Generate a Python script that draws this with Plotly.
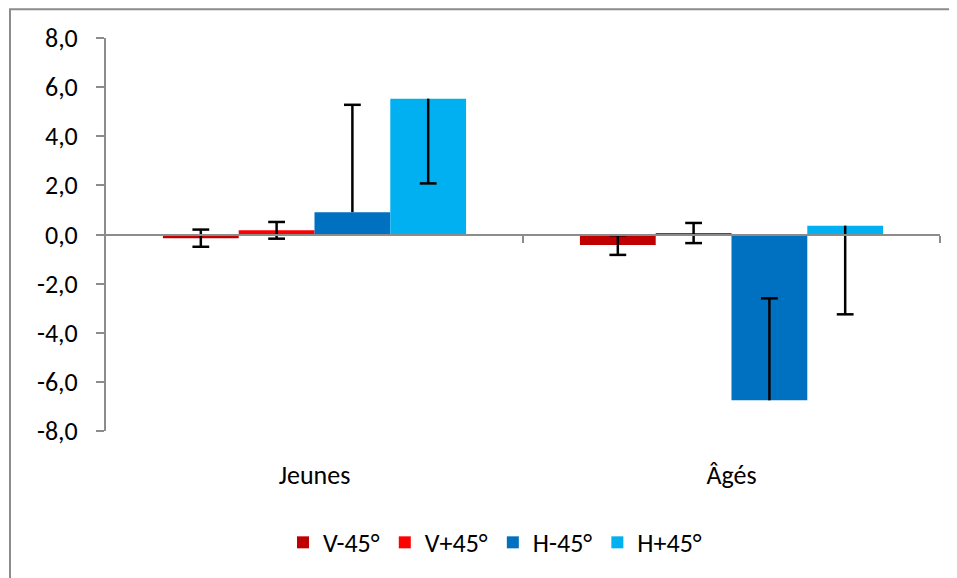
import plotly.graph_objects as go

categories = ["Jeunes", "Âgés"]
series_names = ["V-45°", "V+45°", "H-45°", "H+45°"]
colors = ["#C00000", "#FF0000", "#0070C0", "#00B0F0"]

v_minus = [-0.15, -0.43]
v_plus = [0.17, 0.06]
h_minus = [0.91, -6.75]
h_plus = [5.53, 0.36]

err_v_minus_up = [0.35, 0.40]
err_v_minus_down = [0.35, 0.40]
err_v_plus_up = [0.34, 0.41]
err_v_plus_down = [0.34, 0.41]
err_h_minus_up = [4.37, 4.15]
err_h_minus_down = [0.0, 0.0]
err_h_plus_up = [0.0, 0.0]
err_h_plus_down = [3.45, 3.61]

values = [v_minus, v_plus, h_minus, h_plus]
errs_up = [err_v_minus_up, err_v_plus_up, err_h_minus_up, err_h_plus_up]
errs_down = [err_v_minus_down, err_v_plus_down, err_h_minus_down, err_h_plus_down]

y_ticks = [-8, -6, -4, -2, 0, 2, 4, 6, 8]
y_tick_labels = ["-8,0", "-6,0", "-4,0", "-2,0", "0,0", "2,0", "4,0", "6,0", "8,0"]

FONT = "Carlito, Calibri, 'Liberation Sans Narrow', 'Open Sans', sans-serif"
FS = 26
GRAY = "#8C8C8C"
BARGAP = 0.273

# page body has an 8px margin, so the figure is drawn 8px smaller
W, H = 949, 570
ML, MR, MT, MB = 98, 17, 30, 145
PW, PH = W - ML - MR, H - MT - MB

fig = go.Figure()
for name, vals, col, up, down in zip(series_names, values, colors, errs_up, errs_down):
    fig.add_trace(go.Bar(
        x=categories, y=vals, name=name,
        marker=dict(color=col, line=dict(width=0)),
        error_y=dict(type="data", symmetric=False, array=up, arrayminus=down,
                     color="black", thickness=2.5, width=0),
    ))

# error bar caps, only at ends that exist
bar_w = (1 - BARGAP) / len(series_names)
cap_x, cap_y = [], []
for k, (vals, up, down) in enumerate(zip(values, errs_up, errs_down)):
    for i in range(len(categories)):
        xpos = i + (k - (len(series_names) - 1) / 2) * bar_w
        if up[i] > 0:
            cap_x.append(xpos)
            cap_y.append(vals[i] + up[i])
        if down[i] > 0:
            cap_x.append(xpos)
            cap_y.append(vals[i] - down[i])
fig.add_trace(go.Scatter(x=cap_x, y=cap_y, xaxis="x2", mode="markers",
                         marker=dict(symbol="line-ew", size=12,
                                     line=dict(color="black", width=2.5)),
                         hoverinfo="skip", showlegend=False))

fig.update_layout(
    width=W, height=H,
    margin=dict(l=ML, r=MR, t=MT, b=MB),
    paper_bgcolor="white", plot_bgcolor="white",
    barmode="group", bargap=BARGAP, bargroupgap=0,
    font=dict(family=FONT, size=FS, color="black"),
    showlegend=True,
    legend=dict(orientation="h", x=(487 - ML) / PW, xanchor="center",
                y=-(537 - (H - MB)) / PH, yanchor="middle",
                font=dict(family=FONT, size=FS, color="black"), itemclick=False,
                traceorder="normal", itemwidth=30),
    xaxis=dict(type="category", showline=False, ticks="", showgrid=False, zeroline=False,
               ticklabelstandoff=26, tickfont=dict(family=FONT, size=FS, color="black")),
    xaxis2=dict(overlaying="x", anchor="free", position=0.5, range=[-0.5, 1.5],
                showline=True, linecolor=GRAY, linewidth=2, ticks="outside",
                tickvals=[0.5, 1.5], ticklen=7, tickcolor=GRAY, tickwidth=2,
                showticklabels=False, showgrid=False, zeroline=False),
    yaxis=dict(range=[-8, 8], tickvals=y_ticks, ticktext=y_tick_labels,
               showline=True, linecolor=GRAY, linewidth=2, ticks="outside",
               ticklen=8, tickcolor=GRAY, tickwidth=2, showgrid=False, zeroline=False,
               ticklabelstandoff=13, tickfont=dict(family=FONT, size=FS, color="black")),
    shapes=[dict(type="rect", xref="paper", yref="paper",
                 x0=(2 - ML) / PW, x1=(W + 20 - ML) / PW,
                 y0=-(H + 20 - (H - MB)) / PH, y1=1 + (MT - 1) / PH,
                 line=dict(color=GRAY, width=2), fillcolor="rgba(0,0,0,0)", layer="below")],
)

fig.write_html("out.html")
